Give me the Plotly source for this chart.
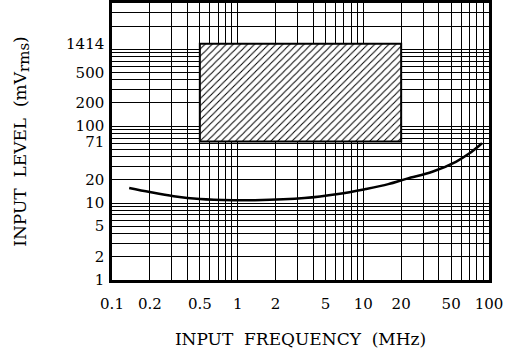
import plotly.graph_objects as go

# curve (MHz, mVrms)
freq_mhz = [0.137, 0.2, 0.31, 0.5, 0.93, 1.37, 3.4, 6.3, 10.4, 15.8, 22.3, 35.4, 54.5, 69.5, 88]
level_mv = [15.7, 13.9, 12.3, 11.3, 10.9, 10.9, 11.6, 13.1, 15.2, 17.6, 20.8, 25.5, 34.4, 44, 60]

# hatched operating window, edges as drawn on the chart's grid
box_freq = [0.5, 20]
box_level = [63, 1180]

x_ticks = [0.1, 0.2, 0.5, 1, 2, 5, 10, 20, 50, 100]
x_labels = ['0.1', '0.2', '0.5', '1', '2', '5', '10', '20', '50', '100']
# the 71 / 1414 labels mark the box edges
y_ticks = [1, 2, 5, 10, 20, 63, 100, 200, 500, 1180]
y_labels = ['1', '2', '5', '10', '20', '71', '100', '200', '500', '1414']

font = 'DejaVu Serif'
sp = '\u00a0\u00a0'
x_minor = [m * 10.0 ** e for e in range(-1, 2) for m in range(1, 10)] + [100]
y_minor = [m * 10.0 ** e for e in range(0, 4) for m in range(1, 10)]

fig = go.Figure()

fig.add_trace(go.Scatter(
    x=[box_freq[0], box_freq[1], box_freq[1], box_freq[0], box_freq[0]],
    y=[box_level[0], box_level[0], box_level[1], box_level[1], box_level[0]],
    mode='lines',
    fill='toself',
    fillcolor='white',
    fillpattern=dict(shape='/', size=5, solidity=0.2, fgcolor='black',
                     bgcolor='white', fillmode='replace'),
    line=dict(color='black', width=2),
    hoverinfo='skip',
))

fig.add_trace(go.Scatter(
    x=freq_mhz, y=level_mv,
    mode='lines',
    line=dict(color='black', width=2.5, shape='spline'),
))

axis_common = dict(
    type='log',
    automargin=False,
    showgrid=False,
    showline=True, linecolor='black', linewidth=2.5, mirror=True,
    ticks='', zeroline=False,
    tickfont=dict(family=font, size=15, color='black'),
    title_font=dict(family=font, size=17, color='black'),
    minor=dict(showgrid=True, gridcolor='black', gridwidth=1, ticks=''),
)

fig.update_layout(
    width=508, height=356,
    margin=dict(l=112, r=19, t=3, b=76),
    plot_bgcolor='white', paper_bgcolor='white',
    showlegend=False,
    template='plotly_white',
)
fig.update_xaxes(axis_common)
fig.update_yaxes(axis_common)
fig.update_xaxes(
    range=[-1, 2],
    tickmode='array', tickvals=x_ticks, ticktext=x_labels,
    minor_tickmode='array', minor_tickvals=x_minor,
    ticklabelstandoff=8,
    title_text=f'INPUT{sp}FREQUENCY{sp}(MHz)', title_standoff=22,
)
fig.update_yaxes(
    range=[0, 3.6],
    tickmode='array', tickvals=y_ticks, ticktext=y_labels,
    minor_tickmode='array', minor_tickvals=y_minor,
    ticklabelstandoff=2,
    title_text=(f'INPUT{sp}LEVEL{sp}(mV<sub><span style="font-size:15px">rms</span></sub>)'),
    title_standoff=36,
)

fig.write_html('out.html', config={'displayModeBar': False},
               post_script="document.body.style.margin='0';")
